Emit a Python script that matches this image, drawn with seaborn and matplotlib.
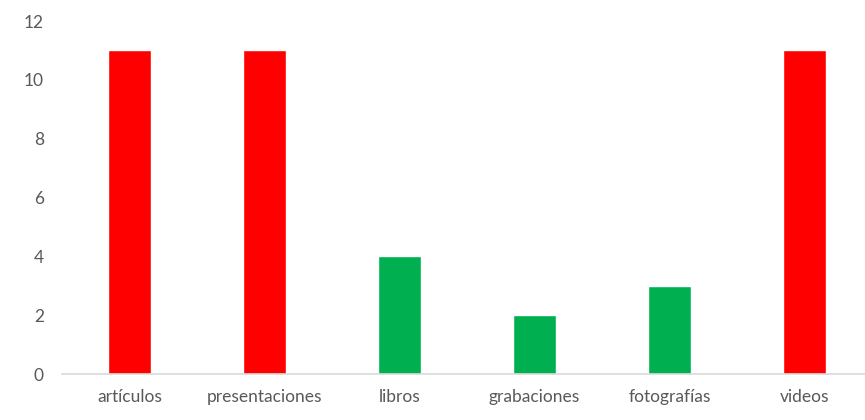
import matplotlib
matplotlib.use('Agg')
import matplotlib.pyplot as plt
import seaborn as sns
import pandas as pd

# datos del gráfico
categorias = ['artículos', 'presentaciones', 'libros', 'grabaciones', 'fotografías', 'videos']
valores = [11, 11, 4, 2, 3, 11]
colores = ['#FF0000', '#FF0000', '#00B050', '#00B050', '#00B050', '#FF0000']
ticks_y = [0, 2, 4, 6, 8, 10, 12]

df = pd.DataFrame({'categoria': categorias, 'valor': valores})

sns.set_theme(style="white")
plt.rcParams['font.family'] = ['Lato', 'DejaVu Sans']

fig = plt.figure(figsize=(8.65, 4.2), dpi=100)
ax = fig.add_axes([0.0717, 0.1095, 0.9364, 0.8405])

sns.barplot(data=df, x='categoria', y='valor', hue='categoria', palette=colores,
            width=0.32, legend=False, ax=ax, saturation=1)

ax.set_xlim(-0.5, 5.5)
ax.set_ylim(0, 12)
ax.set_yticks(ticks_y)
ax.set_xlabel('')
ax.set_ylabel('')
sns.despine(ax=ax, left=True, top=True, right=True)
ax.spines['bottom'].set_color('#D9D9D9')
ax.spines['bottom'].set_linewidth(1.2)
ax.tick_params(axis='both', length=0, colors='#595959', labelsize=12.5)
ax.tick_params(axis='y', pad=13)
ax.tick_params(axis='x', pad=11)

fig.savefig('out.png', dpi=100)
